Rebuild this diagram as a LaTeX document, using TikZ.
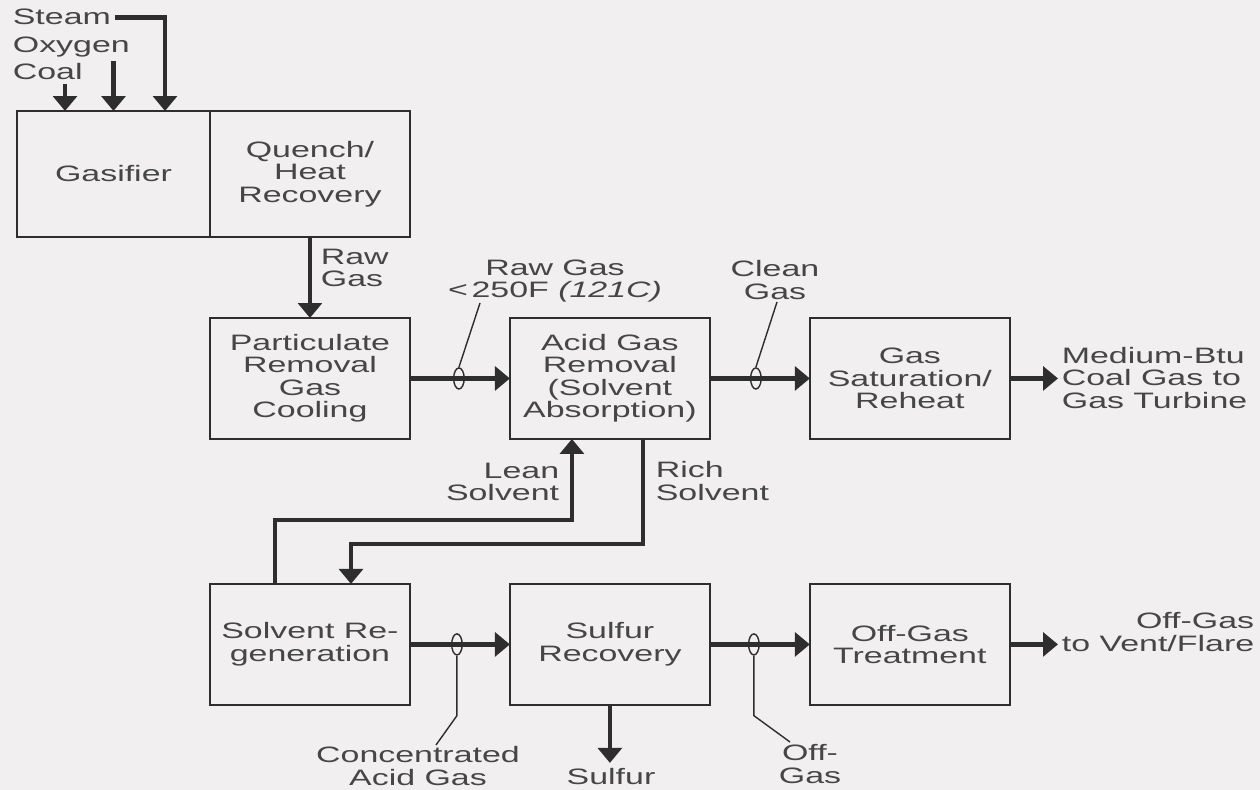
\documentclass[tikz,border=0pt]{standalone}
\usepackage{fontspec}
\setmainfont{Liberation Sans}[FakeStretch=1.52]
\usepackage{xcolor}
\usepackage{tikz}
\usetikzlibrary{arrows.meta,positioning,calc,shapes.geometric}
\definecolor{paper}{RGB}{241,239,239}
\definecolor{ink}{RGB}{46,46,46}
\definecolor{txt}{RGB}{70,70,70}
\tikzset{
  box/.style={draw=ink, line width=1.1pt, align=center, minimum width=4cm, minimum height=2.42cm, outer sep=0pt, inner sep=2pt, text=txt, font=\fontsize{12.7pt}{12.8pt}\selectfont},
  lbl/.style={align=center, inner sep=2pt, text=txt, font=\fontsize{12.7pt}{12.6pt}\selectfont},
  tap/.style={draw=ink, ellipse, line width=0.8pt, minimum width=6pt, minimum height=12pt, inner sep=0pt},
  flow/.style={draw=ink, line width=2.6pt, -{Triangle[length=8.5pt, width=13.5pt]}},
  lead/.style={draw=ink, line width=0.8pt}
}
\begin{document}
\begin{tikzpicture}[x=0.02cm, y=-0.02cm, node distance=1.62cm and 2cm]
  \fill[paper] (0,0) rectangle (1260,790);
  \useasboundingbox (0,0) rectangle (1260,790);

  % process units
  \node[box, minimum width=3.86cm, minimum height=2.52cm] (gasifier) at (113.5,174) {Gasifier};
  \node[box, minimum height=2.52cm, right=0pt of gasifier] (quench) {Quench/\\Heat\\Recovery};
  \node[box, below=of quench] (partic) {Particulate\\Removal\\Gas\\Cooling};
  \node[box, right=of partic] (acid) {Acid Gas\\Removal\\(Solvent\\Absorption)};
  \node[box, right=of acid] (gassat) {Gas\\Saturation/\\Reheat};
  \node[box, below=2.9cm of partic] (regen) {Solvent Re-\\generation};
  \node[box, right=of regen] (sulfur) {Sulfur\\Recovery};
  \node[box, right=of sulfur] (offgas) {Off-Gas\\Treatment};

  % stream labels
  \node[lbl, anchor=base west] (steam) at (9,25) {Steam};
  \node[lbl, anchor=base west] (oxygen) at (9,53) {Oxygen};
  \node[lbl, anchor=base west] (coal) at (9,80) {Coal};
  \node[lbl, anchor=west, align=left] (rawgas) at (317,268) {Raw\\Gas};
  \node[lbl] (rawcool) at (555,281) {Raw Gas\\<\,250F \textit{(121C)}};
  \node[lbl] (clean) at (775,280) {Clean\\Gas};
  \node[lbl, anchor=west, align=left] (btu) at (1058,378) {Medium-Btu\\Coal Gas to\\Gas Turbine};
  \node[lbl, anchor=east, align=right] (lean) at (563,482) {Lean\\Solvent};
  \node[lbl, anchor=west, align=left] (rich) at (652,481) {Rich\\Solvent};
  \node[lbl, anchor=east, align=right] (vent) at (1258,632) {Off-Gas\\to Vent/Flare};
  \node[lbl] (conc) at (418,766) {Concentrated\\Acid Gas};
  \node[lbl] (sulfurout) at (611,777) {Sulfur};
  \node[lbl] (offg) at (810,764) {Off-\\Gas};

  \coordinate (steamin) at ($(gasifier.north west)+(148,0)$);
  \coordinate (coalin) at ($(gasifier.north west)+(48,0)$);
  \coordinate (rawend) at (480,303);
  \coordinate (cleanend) at (777,302);
  \coordinate (concend) at (436,745);
  \coordinate (offend) at (790,742);

  % feeds
  \draw[flow] (steam.east) -| (steamin);
  \draw[flow] (oxygen.south -| gasifier.north) -- (gasifier.north);
  \draw[flow] (coal.south -| coalin) -- (coalin);

  % main gas train
  \draw[flow] (quench.south) -- (quench.south |- partic.north);
  \draw[flow] (partic.east) -- (partic.east -| acid.west);
  \draw[flow] (acid.east) -- (acid.east -| gassat.west);
  \draw[flow] (gassat.east) -- (gassat.east -| btu.west);

  % solvent loop
  \draw[flow] ($(regen.north west)+(65,0)$) |- ($(acid.south west)+(62,81)$) -- ($(acid.south west)+(62,0)$);
  \draw[flow] ($(acid.south west)+(133,0)$) |- ($(regen.north west)+(141,-40)$) -- ($(regen.north west)+(141,0)$);

  % sulfur train
  \draw[flow] (regen.east) -- (regen.east -| sulfur.west);
  \draw[flow] (sulfur.east) -- (sulfur.east -| offgas.west);
  \draw[flow] (offgas.east) -- (offgas.east -| vent.west);
  \draw[flow] (sulfur.south) -- ++(0,58);

  % sample points
  \node[tap] (tap1) at ($(partic.east)!0.49!(acid.west)$) {};
  \node[tap] (tap2) at ($(acid.east)!0.46!(gassat.west)$) {};
  \node[tap] (tap3) at ($(regen.east)!0.47!(sulfur.west)$) {};
  \node[tap] (tap4) at ($(sulfur.east)!0.44!(offgas.west)$) {};
  \draw[lead] (tap1.north) -- (rawend);
  \draw[lead] (tap2.north) -- (cleanend);
  \draw[lead] (tap3.south) -- ++(0,60) -- (concend);
  \draw[lead] (tap4.south) -- ++(0,60) -- (offend);
\end{tikzpicture}
\end{document}
